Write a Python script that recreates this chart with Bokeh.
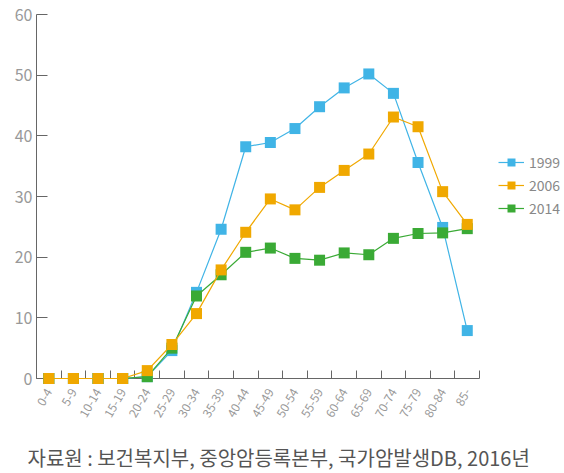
import math
from bokeh.plotting import figure
from bokeh.models import Range1d, FixedTicker, Legend, LegendItem, Title, ColumnDataSource
from bokeh.embed import file_html
from bokeh.resources import INLINE

age_groups = ["0-4", "5-9", "10-14", "15-19", "20-24", "25-29", "30-34", "35-39", "40-44",
              "45-49", "50-54", "55-59", "60-64", "65-69", "70-74", "75-79", "80-84", "85-"]
rate_1999 = [0, 0, 0, 0, 0.3, 4.6, 14.2, 24.6, 38.2, 38.9, 41.2, 44.8, 47.9, 50.2, 47.0, 35.6, 24.9, 7.9]
rate_2006 = [0, 0, 0, 0, 1.3, 5.6, 10.7, 17.9, 24.1, 29.6, 27.8, 31.5, 34.3, 37.0, 43.1, 41.5, 30.8, 25.4]
rate_2014 = [0, 0, 0, 0, 0.3, 5.0, 13.6, 17.1, 20.8, 21.5, 19.8, 19.5, 20.7, 20.4, 23.1, 23.9, 24.0, 24.7]
y_ticks = [0, 10, 20, 30, 40, 50, 60]
series_names = ["1999", "2006", "2014"]

FONT = "Noto Sans CJK KR"
n = len(age_groups)
xpos = [i + 0.5 for i in range(n)]

p = figure(width=564, height=473, output_backend="svg", toolbar_location=None,
           x_range=Range1d(0, 21.45), y_range=Range1d(0, 60),
           min_border_left=36, min_border_top=14, min_border_right=0, min_border_bottom=95)
p.grid.visible = False
p.outline_line_color = None

# x axis
xa = p.xaxis[0]
xa.bounds = (0, n)
xa.ticker = FixedTicker(ticks=xpos, minor_ticks=list(range(n + 1)))
xa.major_label_overrides = {x: lab for x, lab in zip(xpos, age_groups)}
xa.major_tick_line_color = None
xa.minor_tick_in = 8
xa.minor_tick_out = 0
xa.minor_tick_line_color = "#666666"
xa.axis_line_color = "#666666"
xa.major_label_orientation = math.radians(60)
xa.major_label_text_font = FONT
xa.major_label_text_font_size = "12px"
xa.major_label_text_color = "#999999"
xa.major_label_standoff = 5
xa.axis_label = " "
xa.axis_label_text_font_size = "11px"
xa.axis_label_standoff = 1

ya = p.yaxis[0]
ya.ticker = FixedTicker(ticks=y_ticks)
ya.major_tick_in = 11
ya.major_tick_out = 0
ya.minor_tick_line_color = None
ya.axis_line_color = "#666666"
ya.major_tick_line_color = "#666666"
ya.major_label_text_font = FONT
ya.major_label_text_font_size = "16px"
ya.major_label_text_color = "#999999"
ya.major_label_standoff = 4

colors = {"1999": "#40B4E6", "2006": "#F0A800", "2014": "#3AAA35"}
data = {"1999": rate_1999, "2006": rate_2006, "2014": rate_2014}
rends = {}
for name in ["1999", "2014", "2006"]:
    src = ColumnDataSource(dict(x=xpos, y=data[name]))
    l = p.line("x", "y", source=src, line_color=colors[name], line_width=1.2, level="overlay")
    m = p.scatter("x", "y", source=src, marker="square", size=11, fill_color=colors[name],
                  line_color=None, level="overlay")
    rends[name] = [l, m]

legend = Legend(items=[LegendItem(label=nm, renderers=rends[nm]) for nm in series_names],
                location=(462, 160), border_line_color=None, background_fill_alpha=0,
                padding=0, margin=0, spacing=3, label_height=20, glyph_height=20, glyph_width=26,
                label_standoff=5, label_text_font=FONT, label_text_font_size="14px",
                label_text_color="#888888")
p.add_layout(legend, "center")

t = Title(text="자료원 : 보건복지부, 중앙암등록본부, 국가암발생DB, 2016년", align="left",
          offset=-9, standoff=2,
          text_font=FONT, text_font_size="20px", text_font_style="normal", text_color="#555555")
p.add_layout(t, "below")

open("out.html", "w").write(file_html(p, INLINE))
